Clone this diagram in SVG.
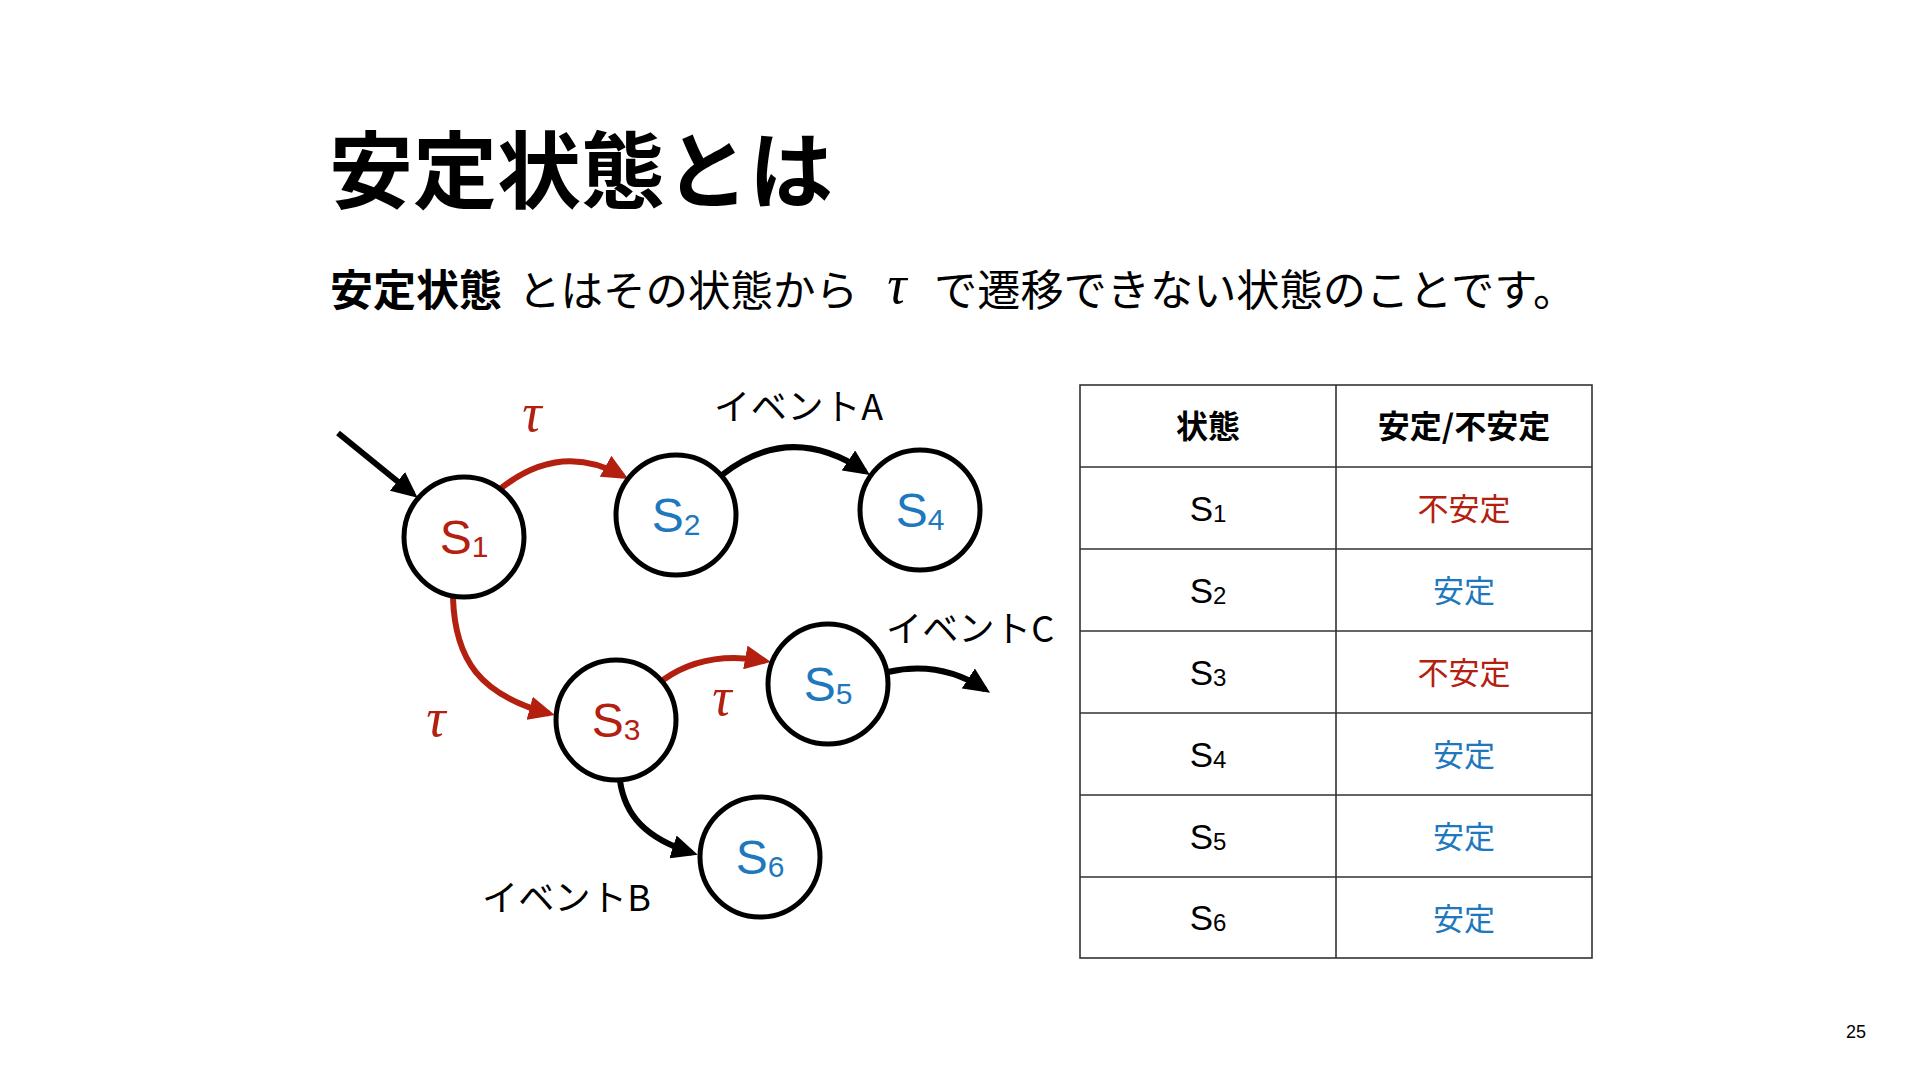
<svg xmlns="http://www.w3.org/2000/svg" width="1920" height="1080" viewBox="0 0 1920 1080">
<defs>
<style>
.jp{font-family:"Noto Sans CJK JP","Noto Sans",sans-serif;fill:#000}
.lat{font-family:"Liberation Sans",Arial,sans-serif}
.tau{font-family:"Liberation Serif","Times New Roman",serif;font-style:italic;fill:#B3200F}
.red{fill:#B3200F}
.blue{fill:#1E78BE}
.node{fill:#fff;stroke:#000;stroke-width:5}
.nl{font-family:"Liberation Sans",Arial,sans-serif;font-size:48px;text-anchor:middle}
.edge{fill:none;stroke-width:6}
.eb{stroke:#000}
.er{stroke:#B3200F}
.grid{stroke:#333;stroke-width:1.6;fill:none}
.cell{text-anchor:middle}
</style>
<marker id="ab" viewBox="0 0 26 24" refX="20" refY="12" markerWidth="26" markerHeight="24" markerUnits="userSpaceOnUse" orient="auto">
<path d="M0,0 L26,12 L0,24 z" fill="#000"/>
</marker>
<marker id="ar" viewBox="0 0 26 24" refX="20" refY="12" markerWidth="26" markerHeight="24" markerUnits="userSpaceOnUse" orient="auto">
<path d="M0,0 L26,12 L0,24 z" fill="#B3200F"/>
</marker>
</defs>
<rect width="1920" height="1080" fill="#fff"/>

<text class="jp" x="329" y="202" font-size="84" font-weight="700">安定状態とは</text>

<g id="subtitle">
<text class="jp" x="330" y="306" font-size="43" font-weight="700">安定状態</text>
<text class="jp" x="518" y="306" font-size="42.5">とはその状態から</text>
<text x="897" y="303" font-size="54" text-anchor="middle" style="font-family:'Liberation Serif',serif;font-style:italic">τ</text>
<text class="jp" x="934" y="306" font-size="43.2">で遷移できない状態のことです。</text>
</g>

<g id="connectors">
<path class="edge eb" d="M338,433 L413,494" marker-end="url(#ab)"/>
<path class="edge er" d="M500,489 Q560,441 623,476" marker-end="url(#ar)"/>
<path class="edge eb" d="M722,475 Q790,421 865,471.6" marker-end="url(#ab)"/>
<path class="edge er" d="M453,598 C455,660 480,695 549,713.5" marker-end="url(#ar)"/>
<path class="edge er" d="M663,680 Q705,650 765,661" marker-end="url(#ar)"/>
<path class="edge eb" d="M888,672 Q940,660 985,689.5" marker-end="url(#ab)"/>
<path class="edge eb" d="M620,781 C625,815 645,838 692,853" marker-end="url(#ab)"/>
</g>

<g id="edge-labels">
<text class="tau" x="532" y="431" font-size="54" text-anchor="middle">τ</text>
<text class="tau" x="436" y="736" font-size="54" text-anchor="middle">τ</text>
<text class="tau" x="722" y="715" font-size="54" text-anchor="middle">τ</text>
<text class="jp" x="714" y="420" font-size="36" letter-spacing="0.8">イベントA</text>
<text class="jp" x="886" y="642" font-size="36" letter-spacing="0.3">イベントC</text>
<text class="jp" x="482" y="911" font-size="36" letter-spacing="0.3">イベントB</text>
</g>

<g id="S1"><circle class="node" cx="464" cy="537" r="60"/><text class="nl red" x="464" y="554">S<tspan font-size="30" dy="3">1</tspan></text></g>
<g id="S2"><circle class="node" cx="676" cy="515" r="60"/><text class="nl blue" x="676" y="532">S<tspan font-size="30" dy="3">2</tspan></text></g>
<g id="S4"><circle class="node" cx="920" cy="510" r="60"/><text class="nl blue" x="920" y="527">S<tspan font-size="30" dy="3">4</tspan></text></g>
<g id="S3"><circle class="node" cx="616" cy="720" r="60"/><text class="nl red" x="616" y="737">S<tspan font-size="30" dy="3">3</tspan></text></g>
<g id="S5"><circle class="node" cx="828" cy="684" r="60"/><text class="nl blue" x="828" y="701">S<tspan font-size="30" dy="3">5</tspan></text></g>
<g id="S6"><circle class="node" cx="760" cy="857" r="60"/><text class="nl blue" x="760" y="874">S<tspan font-size="30" dy="3">6</tspan></text></g>

<g id="table">
<rect class="grid" x="1080" y="385" width="512" height="573"/>
<path class="grid" d="M1336,385 V958 M1080,467 H1592 M1080,549 H1592 M1080,631 H1592 M1080,713 H1592 M1080,795 H1592 M1080,877 H1592"/>
<text class="jp cell" x="1208" y="438" font-size="32" font-weight="700">状態</text>
<text class="jp cell" x="1464" y="438" font-size="32" font-weight="700">安定/不安定</text>
<g class="lat cell" font-size="35">
<text x="1208" y="520.5">S<tspan font-size="24" dy="1">1</tspan></text>
<text x="1208" y="602.5">S<tspan font-size="24" dy="1">2</tspan></text>
<text x="1208" y="684.5">S<tspan font-size="24" dy="1">3</tspan></text>
<text x="1208" y="766.5">S<tspan font-size="24" dy="1">4</tspan></text>
<text x="1208" y="848.5">S<tspan font-size="24" dy="1">5</tspan></text>
<text x="1208" y="930">S<tspan font-size="24" dy="1">6</tspan></text>
</g>
<g font-size="31">
<text class="jp cell red" x="1464" y="520">不安定</text>
<text class="jp cell blue" x="1464" y="602">安定</text>
<text class="jp cell red" x="1464" y="684">不安定</text>
<text class="jp cell blue" x="1464" y="766">安定</text>
<text class="jp cell blue" x="1464" y="848">安定</text>
<text class="jp cell blue" x="1464" y="929.5">安定</text>
</g>
</g>

<text class="lat" x="1856" y="1038" font-size="18" text-anchor="middle">25</text>
</svg>
